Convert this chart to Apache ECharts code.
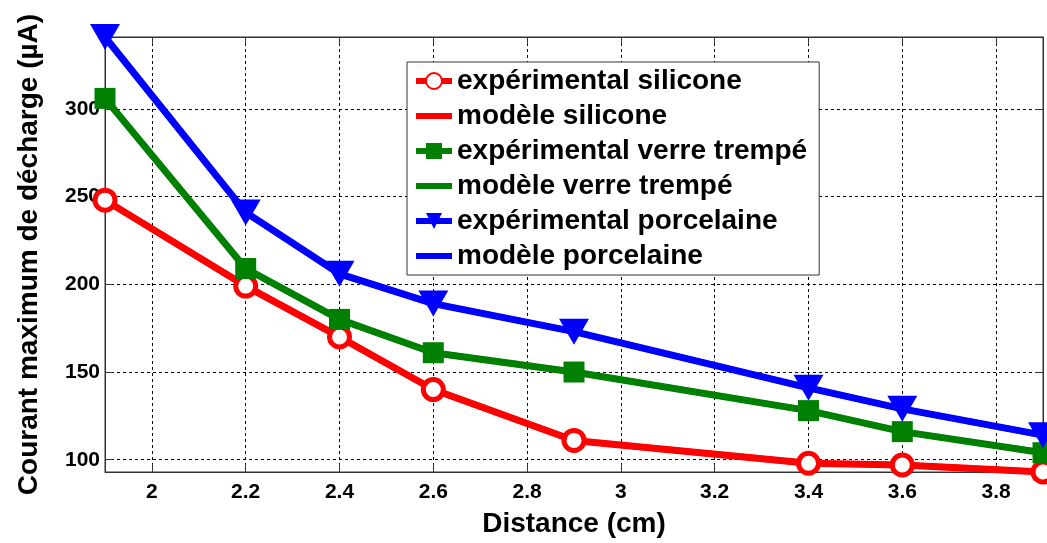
<!DOCTYPE html>
<html>
<head>
<meta charset="utf-8">
<script src="https://cdn.jsdelivr.net/npm/echarts@6/dist/echarts.min.js"></script>
<style>
  html, body { margin: 0; padding: 0; background: #ffffff; }
  #chart { width: 1047px; height: 543px; }
</style>
</head>
<body>
<div id="chart"></div>
<script>
// Distance between electrodes (cm)
const distances = [1.9, 2.2, 2.4, 2.6, 2.9, 3.4, 3.6, 3.9];

// Maximum discharge current (µA), measured
const expSilicone    = [248, 199, 170, 140, 111, 98, 97, 93];
const expVerre       = [306, 209, 180, 161, 150, 128, 116, 104];
const expPorcelaine  = [341, 241, 206, 189, 173, 141, 129, 114];

// Maximum discharge current (µA), model
const modSilicone    = [248, 199, 170, 140, 111, 98, 97, 93];
const modVerre       = [306, 209, 180, 161, 150, 128, 116, 104];
const modPorcelaine  = [341, 241, 206, 189, 173, 141, 129, 114];

// Axis ticks
const xTicks = [2, 2.2, 2.4, 2.6, 2.8, 3, 3.2, 3.4, 3.6, 3.8];
const yTicks = [100, 150, 200, 250, 300];

const seriesNames = [
  'expérimental silicone', 'modèle silicone',
  'expérimental verre trempé', 'modèle verre trempé',
  'expérimental porcelaine', 'modèle porcelaine'
];

const RED = '#ff0000', GREEN = '#008000', BLUE = '#0000ff';
const FONT = '"Liberation Sans", Arial, sans-serif';

function pairs(ys) { return distances.map((x, i) => [x, ys[i]]); }

function expSeries(name, ys, color, symbol, size, itemStyle, extra) {
  return Object.assign({
    name, type: 'line', data: pairs(ys),
    symbol, symbolSize: size, showSymbol: true,
    lineStyle: { color, width: 7 },
    itemStyle: itemStyle,
    z: 3, animation: false
  }, extra || {});
}
function modSeries(name, ys, color) {
  return {
    name, type: 'line', data: pairs(ys),
    symbol: 'circle', showSymbol: false,
    lineStyle: { color, width: 6 },
    itemStyle: { color },
    z: 2, animation: false
  };
}

const xMin = 1.9, xMax = 3.9, yMin = 93, yMax = 341;

const gridLine = { show: true, lineStyle: { color: '#000', type: [3, 3], width: 1 } };

// Legend entries: model lines are shown as a plain line without a marker
const legendData = seriesNames.map((name, i) =>
  i % 2 === 1 ? { name, itemStyle: { opacity: 0 } } : { name });

const chart = echarts.init(document.getElementById('chart'), null, { renderer: 'canvas' });
chart.setOption({
  backgroundColor: '#ffffff',
  animation: false,
  grid: {
    left: 105, right: 4, top: 37, bottom: 68,
    show: true, borderColor: '#333', borderWidth: 1, backgroundColor: 'transparent'
  },
  legend: {
    orient: 'vertical',
    left: 407, top: 62,
    data: legendData,
    backgroundColor: '#ffffff',
    borderColor: '#333', borderWidth: 1,
    padding: [4, 12, 4, 6],
    itemWidth: 36, itemHeight: 20, itemGap: 5,
    lineStyle: { width: 6 },
    textStyle: { fontFamily: FONT, fontWeight: 'bold', fontSize: 28, color: '#000', lineHeight: 30 },
    selectedMode: false
  },
  xAxis: [{
    type: 'value', min: xMin, max: xMax,
    name: 'Distance (cm)', nameLocation: 'middle', nameGap: 38,
    nameTextStyle: { fontFamily: FONT, fontWeight: 'bold', fontSize: 28, color: '#000' },
    axisLine: { show: true, onZero: false, lineStyle: { color: '#333', width: 1 } },
    axisTick: { show: true, inside: true, length: 8, customValues: xTicks, lineStyle: { color: '#333' } },
    axisLabel: {
      customValues: xTicks, margin: 10,
      fontFamily: FONT, fontWeight: 'bold', fontSize: 21, color: '#000',
      formatter: v => String(+v.toFixed(1))
    },
    splitLine: gridLine
  }, {
    type: 'value', min: xMin, max: xMax, position: 'top',
    axisLine: { show: true, onZero: false, lineStyle: { color: '#333', width: 1 } },
    axisTick: { show: true, inside: true, length: 8, customValues: xTicks, lineStyle: { color: '#333' } },
    axisLabel: { show: false },
    splitLine: { show: false }
  }],
  yAxis: [{
    type: 'value', min: yMin, max: yMax,
    name: 'Courant maximum de décharge (µA)', nameLocation: 'middle', nameGap: 62,
    nameTextStyle: { fontFamily: FONT, fontWeight: 'bold', fontSize: 28, color: '#000' },
    axisLine: { show: true, onZero: false, lineStyle: { color: '#333', width: 1 } },
    axisTick: { show: true, inside: true, length: 8, customValues: yTicks, lineStyle: { color: '#333' } },
    axisLabel: {
      customValues: yTicks, margin: 5,
      fontFamily: FONT, fontWeight: 'bold', fontSize: 21, color: '#000'
    },
    splitLine: gridLine
  }, {
    type: 'value', min: yMin, max: yMax, position: 'right',
    axisLine: { show: true, onZero: false, lineStyle: { color: '#333', width: 1 } },
    axisTick: { show: true, inside: true, length: 8, customValues: yTicks, lineStyle: { color: '#333' } },
    axisLabel: { show: false },
    splitLine: { show: false }
  }],
  series: [
    expSeries(seriesNames[0], expSilicone, RED, 'circle', 20,
      { color: '#ffffff', borderColor: RED, borderWidth: 5 }),
    modSeries(seriesNames[1], modSilicone, RED),
    expSeries(seriesNames[2], expVerre, GREEN, 'rect', 21,
      { color: GREEN, borderColor: GREEN, borderWidth: 0 }),
    modSeries(seriesNames[3], modVerre, GREEN),
    expSeries(seriesNames[4], expPorcelaine, BLUE, 'triangle', [30, 26],
      { color: BLUE, borderColor: BLUE, borderWidth: 0 }, { symbolRotate: 180 }),
    modSeries(seriesNames[5], modPorcelaine, BLUE)
  ]
});
</script>
</body>
</html>
